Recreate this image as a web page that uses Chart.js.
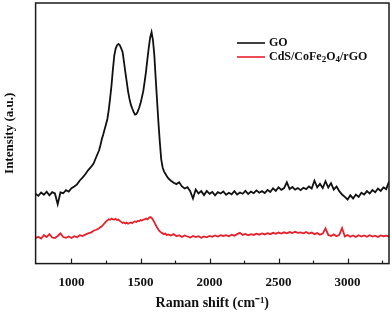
<!DOCTYPE html>
<html>
<head>
<meta charset="utf-8">
<script src="https://cdn.jsdelivr.net/npm/chart.js@4.4.1/dist/chart.umd.min.js"></script>
<style>
  body { margin: 0; background: #fff; }
  canvas { display: block; }
</style>
</head>
<body>
<canvas id="ramanChart" width="392" height="318"></canvas>
<script>
// Raman shift (cm-1)
const ramanShift = [
  740, 760, 780, 800, 820, 840, 860, 880, 900, 920, 940, 960, 980, 1000, 1020, 1040, 1060, 1080, 1100, 1120, 1140, 1160, 1180, 1200,
  1210, 1220, 1230, 1240, 1250, 1260, 1270, 1280, 1290, 1300,
  1310, 1320, 1330, 1340, 1350, 1360, 1370, 1380, 1390, 1400,
  1410, 1420, 1430, 1440, 1450, 1460, 1470, 1480, 1490, 1500,
  1510, 1520, 1530, 1540, 1550, 1560, 1570, 1580, 1590, 1600,
  1610, 1620, 1630, 1640, 1650, 1660, 1670, 1680, 1690, 1700,
  1720, 1740, 1760, 1780, 1800, 1820, 1840, 1860, 1880, 1900,
  1920, 1940, 1960, 1980, 2000, 2020, 2040, 2060, 2080, 2100,
  2120, 2140, 2160, 2180, 2200, 2220, 2240, 2260, 2280, 2300,
  2320, 2340, 2360, 2380, 2400, 2420, 2440, 2460, 2480, 2500,
  2520, 2540, 2560, 2580, 2600, 2620, 2640, 2660, 2680, 2700,
  2720, 2740, 2760, 2780, 2800, 2820, 2840, 2860, 2880, 2900,
  2920, 2940, 2960, 2980, 3000, 3020, 3040, 3060, 3080, 3100,
  3120, 3140, 3160, 3180, 3200, 3220, 3240, 3260, 3280, 3300
];

// GO (black)
const goIntensity = [
  26.8, 26.0, 27.3, 26.4, 27.6, 26.2, 27.4, 26.9, 22.8, 27.3, 27.0, 28.2, 27.6, 28.9, 29.6, 30.4, 31.9, 33.0, 34.3, 35.8, 37.0, 38.4, 41.0, 43.5,
  45.5, 47.8, 49.5, 51.5, 53.5, 55.5, 59.0, 63.5, 68.5, 74.5,
  79.8, 82.5, 83.8, 84.3, 83.8, 82.6, 81.2, 77.5, 73.5, 69.8,
  66.0, 63.2, 61.0, 59.5, 58.2, 57.2, 57.4, 58.3, 59.8, 61.5,
  63.8, 66.2, 69.8, 73.8, 78.5, 83.0, 86.8, 88.8, 85.8, 80.0,
  71.0, 62.5, 54.0, 46.5, 40.0, 37.0, 35.4, 34.5, 33.6, 32.8,
  31.8, 31.0, 30.5, 31.2, 29.6, 28.8, 29.3, 27.8, 25.0, 28.4,
  26.9, 27.8, 26.3, 27.9, 26.8, 27.5, 26.2, 27.4, 26.9, 27.7,
  26.4, 27.2, 26.6, 27.8, 26.5, 27.3, 26.8, 27.9, 26.7, 27.6,
  27.0, 28.1, 27.2, 27.8, 27.1, 28.3, 27.5, 28.9, 27.9, 29.3,
  28.3, 29.0, 31.2, 28.6, 29.4, 28.4, 29.0, 28.2, 29.1, 28.6,
  29.6, 28.8, 31.8, 29.3, 30.6, 29.0, 31.6, 29.2, 30.9, 28.4,
  29.6, 27.8, 26.5, 25.6, 24.6, 26.2, 25.0, 26.5, 25.6, 27.2,
  26.5, 27.8, 26.9, 28.2, 27.4, 28.8, 27.9, 29.2, 28.6, 31.5
];

// CdS/CoFe2O4/rGO (red)
const compositeIntensity = [
  9.8, 10.3, 9.6, 10.9, 10.2, 11.3, 10.0, 9.8, 10.6, 11.6, 10.2, 9.9, 10.4, 9.8, 10.5, 10.1, 10.9, 10.6, 11.1, 11.6, 11.9, 12.6, 13.0, 13.6,
  14.0, 14.3, 14.9, 15.5, 16.1, 16.6, 17.0, 16.8, 17.3, 17.0,
  16.9, 17.2, 16.7, 16.9, 16.4, 16.0, 15.6, 15.8, 15.4, 15.7,
  15.3, 15.6, 15.8, 15.5, 16.0, 16.2, 16.0, 16.4, 16.3, 16.7,
  16.5, 16.9, 17.0, 17.3, 17.0, 17.5, 17.9, 17.6, 16.8, 15.9,
  14.8, 13.9, 13.0, 12.4, 11.9, 11.6, 11.3, 11.5, 10.9, 11.2,
  10.8, 11.3, 10.5, 10.9, 10.2, 10.8, 10.4, 10.0, 10.6, 10.2,
  10.5, 9.9, 10.4, 10.1, 10.6, 10.3, 10.8, 10.4, 10.9, 10.6,
  10.9, 10.5, 11.1, 10.7, 11.3, 11.8, 11.0, 11.4, 10.9, 11.3,
  11.0, 11.5, 11.1, 11.6, 11.2, 11.7, 11.3, 11.8, 11.4, 11.9,
  11.5, 12.0, 11.6, 12.1, 11.7, 12.2, 11.8, 12.0, 11.6, 12.1,
  11.5, 11.9, 11.3, 11.7, 11.1, 11.5, 13.5, 11.0, 10.6, 11.2,
  10.5, 11.0, 13.6, 10.4, 11.0, 10.3, 10.8, 10.2, 10.9, 10.4,
  10.8, 10.3, 10.9, 10.4, 10.7, 10.2, 10.8, 10.5, 10.7, 10.4
];

const xTickLabels = [1000, 1500, 2000, 2500, 3000];
const xTickMarks = [1000, 1250, 1500, 1750, 2000, 2250, 2500, 2750, 3000, 3250];

const serif = "'Liberation Serif', 'Times New Roman', serif";

// marco, ticks hacia adentro y leyenda
const framePlugin = {
  id: 'framePlugin',
  afterDraw(chart) {
    const { ctx, chartArea: a, scales: { x } } = chart;
    ctx.save();
    ctx.strokeStyle = '#1a1a1a';
    ctx.lineWidth = 1.5;
    ctx.strokeRect(a.left, a.top, a.right - a.left, a.bottom - a.top);

    ctx.lineWidth = 1.2;
    xTickMarks.forEach(v => {
      const px = Math.round(x.getPixelForValue(v)) + 0.5;
      const len = xTickLabels.includes(v) ? 5 : 3;
      ctx.beginPath();
      ctx.moveTo(px, a.bottom);
      ctx.lineTo(px, a.bottom - len);
      ctx.stroke();
    });

    // leyenda
    const lx = 237, tx = 269;
    const rows = [
      { y: 43, color: '#111111', parts: [['GO', 0]] },
      { y: 57, color: '#e8202c', parts: [['CdS/CoFe', 0], ['2', 1], ['O', 0], ['4', 1], ['/rGO', 0]] }
    ];
    ctx.textBaseline = 'middle';
    ctx.fillStyle = '#111';
    rows.forEach(r => {
      ctx.strokeStyle = r.color;
      ctx.lineWidth = 1.6;
      ctx.beginPath();
      ctx.moveTo(lx, r.y);
      ctx.lineTo(lx + 28, r.y);
      ctx.stroke();
      let cx = tx;
      r.parts.forEach(([t, sub]) => {
        ctx.font = sub ? `bold 9px ${serif}` : `bold 12px ${serif}`;
        ctx.fillText(t, cx, r.y + (sub ? 3 : 0));
        cx += ctx.measureText(t).width;
      });
    });
    ctx.restore();
  }
};

const ctx = document.getElementById('ramanChart').getContext('2d');
const ramanChart = new Chart(ctx, {
  type: 'line',
  data: {
    datasets: [
      {
        label: 'GO',
        data: ramanShift.map((v, i) => ({ x: v, y: goIntensity[i] })),
        borderColor: '#111111',
        borderWidth: 1.8,
        pointRadius: 0,
        tension: 0
      },
      {
        label: 'CdS/CoFe2O4/rGO',
        data: ramanShift.map((v, i) => ({ x: v, y: compositeIntensity[i] })),
        borderColor: '#e8202c',
        borderWidth: 1.8,
        pointRadius: 0,
        tension: 0
      }
    ]
  },
  options: {
    responsive: false,
    animation: false,
    layout: { padding: { top: 3, right: 3, bottom: 6, left: 0 } },
    plugins: {
      legend: { display: false },
      tooltip: { enabled: false }
    },
    scales: {
      x: {
        type: 'linear',
        min: 740,
        max: 3300,
        afterBuildTicks: axis => { axis.ticks = xTickLabels.map(v => ({ value: v })); },
        grid: { display: false, drawTicks: false },
        border: { display: false },
        ticks: {
          padding: 11,
          color: '#111',
          font: { family: serif, size: 13, weight: 'bold' },
          maxRotation: 0,
          callback: v => String(v)
        },
        title: {
          display: true,
          text: 'Raman shift (cm⁻¹)',
          color: '#111',
          padding: { top: -6, bottom: 0 },
          font: { family: serif, size: 14, weight: 'bold' }
        }
      },
      y: {
        min: 0,
        max: 100,
        grid: { display: false, drawTicks: false },
        border: { display: false },
        ticks: { display: false },
        title: {
          display: true,
          text: 'Intensity (a.u.)',
          color: '#111',
          padding: { top: 2, bottom: 18 },
          font: { family: serif, size: 13, weight: 'bold' }
        }
      }
    }
  },
  plugins: [framePlugin]
});
</script>
</body>
</html>
